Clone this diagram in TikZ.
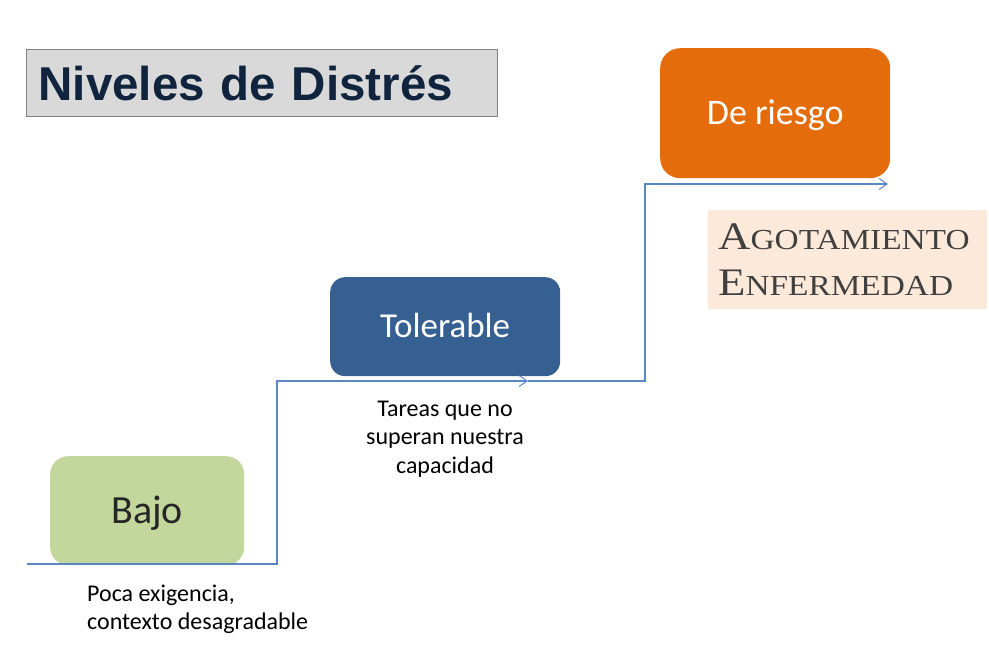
\documentclass[tikz,border=0pt]{standalone}
\usepackage{fontspec}
\setmainfont{Carlito}
\newfontfamily\arialfont{Liberation Sans}
\newfontfamily\copperfont[FakeStretch=1.15]{Liberation Serif}
\usetikzlibrary{arrows.meta}
\definecolor{titlefill}{HTML}{D9D9D9}
\definecolor{titleborder}{HTML}{808080}
\definecolor{titletext}{HTML}{10243E}
\definecolor{bajofill}{HTML}{C3D69B}
\definecolor{bajotext}{HTML}{262626}
\definecolor{tolfill}{HTML}{376092}
\definecolor{riesgofill}{HTML}{E46C0A}
\definecolor{agotfill}{HTML}{FDE9D9}
\definecolor{agottext}{HTML}{404040}
\definecolor{connblue}{HTML}{5A86C3}
\tikzset{
  levelbox/.style={anchor=north west, inner sep=0pt, text depth=0pt},
  conn/.style={draw=connblue, line width=1.2pt, -{Straight Barb[length=8pt,width=11pt,line width=1pt]}},
  note/.style={inner sep=0pt, font=\fontsize{24}{28.5}\selectfont, text=black},
}
\begin{document}
\begin{tikzpicture}[x=1pt,y=-1pt]
\useasboundingbox (0,0) rectangle (989,672);
\fill[white] (0,0) rectangle (989,672);

% title
\node[anchor=north west, fill=titlefill, draw=titleborder, line width=1pt,
      inner xsep=12pt, inner ysep=0pt, minimum height=67pt, text width=447pt, align=left,
      text height=34pt, text depth=0pt, text=titletext,
      font=\arialfont\bfseries\fontsize{47.5}{50}\selectfont] (title) at (26,49) {Niveles de Distrés};

% level boxes
\node[levelbox, fill=bajofill, text=bajotext, rounded corners=18pt, text height=25.8pt,
      minimum width=194pt, minimum height=109pt, font=\fontsize{40}{46}\selectfont] (bajo) at (50,456) {Bajo};
\node[levelbox, fill=tolfill, text=white, rounded corners=15pt, text height=22.5pt,
      minimum width=230pt, minimum height=99pt, font=\fontsize{35}{42}\selectfont] (tol) at (330,277) {Tolerable};
\node[levelbox, fill=riesgofill, text=white, rounded corners=20pt, text height=23.2pt,
      minimum width=230pt, minimum height=130pt, font=\fontsize{36}{42}\selectfont] (riesgo) at (660,48) {De riesgo};

% consequences box
\node[anchor=north west, fill=agotfill, text=agottext, inner xsep=10pt, inner ysep=0pt,
      minimum height=99pt, text width=259pt, align=left,
      font=\copperfont\fontsize{39}{46}\selectfont] (agot) at (708,210)
  {A{\fontsize{29}{46}\selectfont GOTAMIENTO}\\
   E{\fontsize{29}{46}\selectfont NFERMEDAD}};

% notes
\node[note, anchor=north west, align=left] (n1) at (87,584.5) {Poca exigencia,\\contexto desagradable};
\node[note, anchor=north, align=center] (n2) at (445,400.5) {Tareas que no\\superan nuestra\\capacidad};

% connectors
\coordinate (start) at (27,564);
\coordinate (c1) at (528,381);
\coordinate (c2) at (888,184);
\draw[conn] (start) -- ++(250,0) |- (c1);
\draw[conn] (c1) -- ++(117,0) |- (c2);
\end{tikzpicture}
\end{document}
